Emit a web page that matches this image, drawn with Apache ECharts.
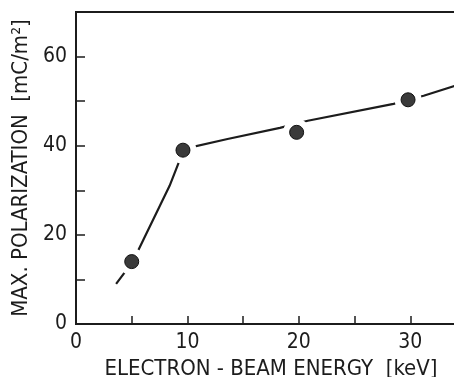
<!DOCTYPE html>
<html>
<head>
<meta charset="utf-8">
<script src="https://cdn.jsdelivr.net/npm/echarts@6/dist/echarts.min.js"></script>
<style>
html,body{margin:0;padding:0;background:#fff;}
#chart{width:454px;height:377px;}
</style>
</head>
<body>
<div id="chart"></div>
<script>
// Measured points: electron-beam energy (keV) vs max. polarization (mC/m^2)
var pointEnergy = [5, 9.6, 19.8, 29.8];
var pointPolarization = [14, 39, 43, 50.3];

// Hand-drawn trend line
var lineEnergy = [3.6, 5.1, 8.4, 9.7, 13.6, 18.3, 20.8, 28.5, 31.2, 34.2];
var linePolarization = [9.0, 14.0, 31.0, 39.3, 41.5, 44.0, 45.6, 49.4, 51.2, 53.6];

var xTickLabels = ['0', '10', '20', '30'];
var yTickLabels = ['0', '20', '40', '60'];

var FONT = '"DejaVu Sans Condensed", "Liberation Sans Narrow", "DejaVu Sans", sans-serif';
var INK = '#1c1c1c';

function zip(a, b) { return a.map(function (v, i) { return [v, b[i]]; }); }

var chart = echarts.init(document.getElementById('chart'), null, {renderer: 'canvas'});
chart.setOption({
  backgroundColor: '#ffffff',
  animation: false,
  grid: {left: 76, top: 12, width: 390, bottom: 53, containLabel: false,
         outerBoundsMode: 'none',
         show: true, borderColor: INK, borderWidth: 2, backgroundColor: 'transparent'},
  xAxis: {
    type: 'value', min: 0, max: 35, interval: 5,
    name: 'ELECTRON - BEAM ENERGY  [keV]',
    nameLocation: 'middle', nameGap: 33,
    nameTextStyle: {fontFamily: FONT, fontSize: 22, color: INK},
    axisLine: {show: true, onZero: false, lineStyle: {color: INK, width: 2}},
    axisTick: {show: true, inside: true, length: 8, lineStyle: {color: INK, width: 1.5}},
    axisLabel: {
      fontFamily: FONT, fontSize: 21, color: INK, margin: 8,
      formatter: function (v) { return xTickLabels.indexOf(String(v)) >= 0 ? String(v) : ''; }
    },
    splitLine: {show: false}
  },
  yAxis: {
    type: 'value', min: 0, max: 70, interval: 10,
    name: 'MAX. POLARIZATION  [mC/m\u00B2]',
    nameLocation: 'middle', nameGap: 27, nameRotate: 90,
    nameTextStyle: {fontFamily: FONT, fontSize: 22, color: INK},
    axisLine: {show: true, onZero: false, lineStyle: {color: INK, width: 2}},
    axisTick: {show: true, inside: true, length: 9, lineStyle: {color: INK, width: 1.5}},
    axisLabel: {
      fontFamily: FONT, fontSize: 21, color: INK, margin: 9,
      formatter: function (v) { return yTickLabels.indexOf(String(v)) >= 0 ? String(v) : ''; }
    },
    splitLine: {show: false}
  },
  series: [{
    type: 'line', data: zip(lineEnergy, linePolarization),
    showSymbol: false, z: 2,
    lineStyle: {color: INK, width: 2.2},
    silent: true
  }, {
    type: 'scatter', data: zip(pointEnergy, pointPolarization),
    symbol: 'circle', symbolSize: 27, z: 3,
    itemStyle: {color: '#ffffff', opacity: 1},
    silent: true
  }, {
    type: 'scatter', data: zip(pointEnergy, pointPolarization),
    symbol: 'circle', symbolSize: 14, z: 4,
    itemStyle: {color: '#3a3a3a', borderColor: '#111', borderWidth: 1, opacity: 1},
    silent: true
  }]
});
</script>
</body>
</html>
